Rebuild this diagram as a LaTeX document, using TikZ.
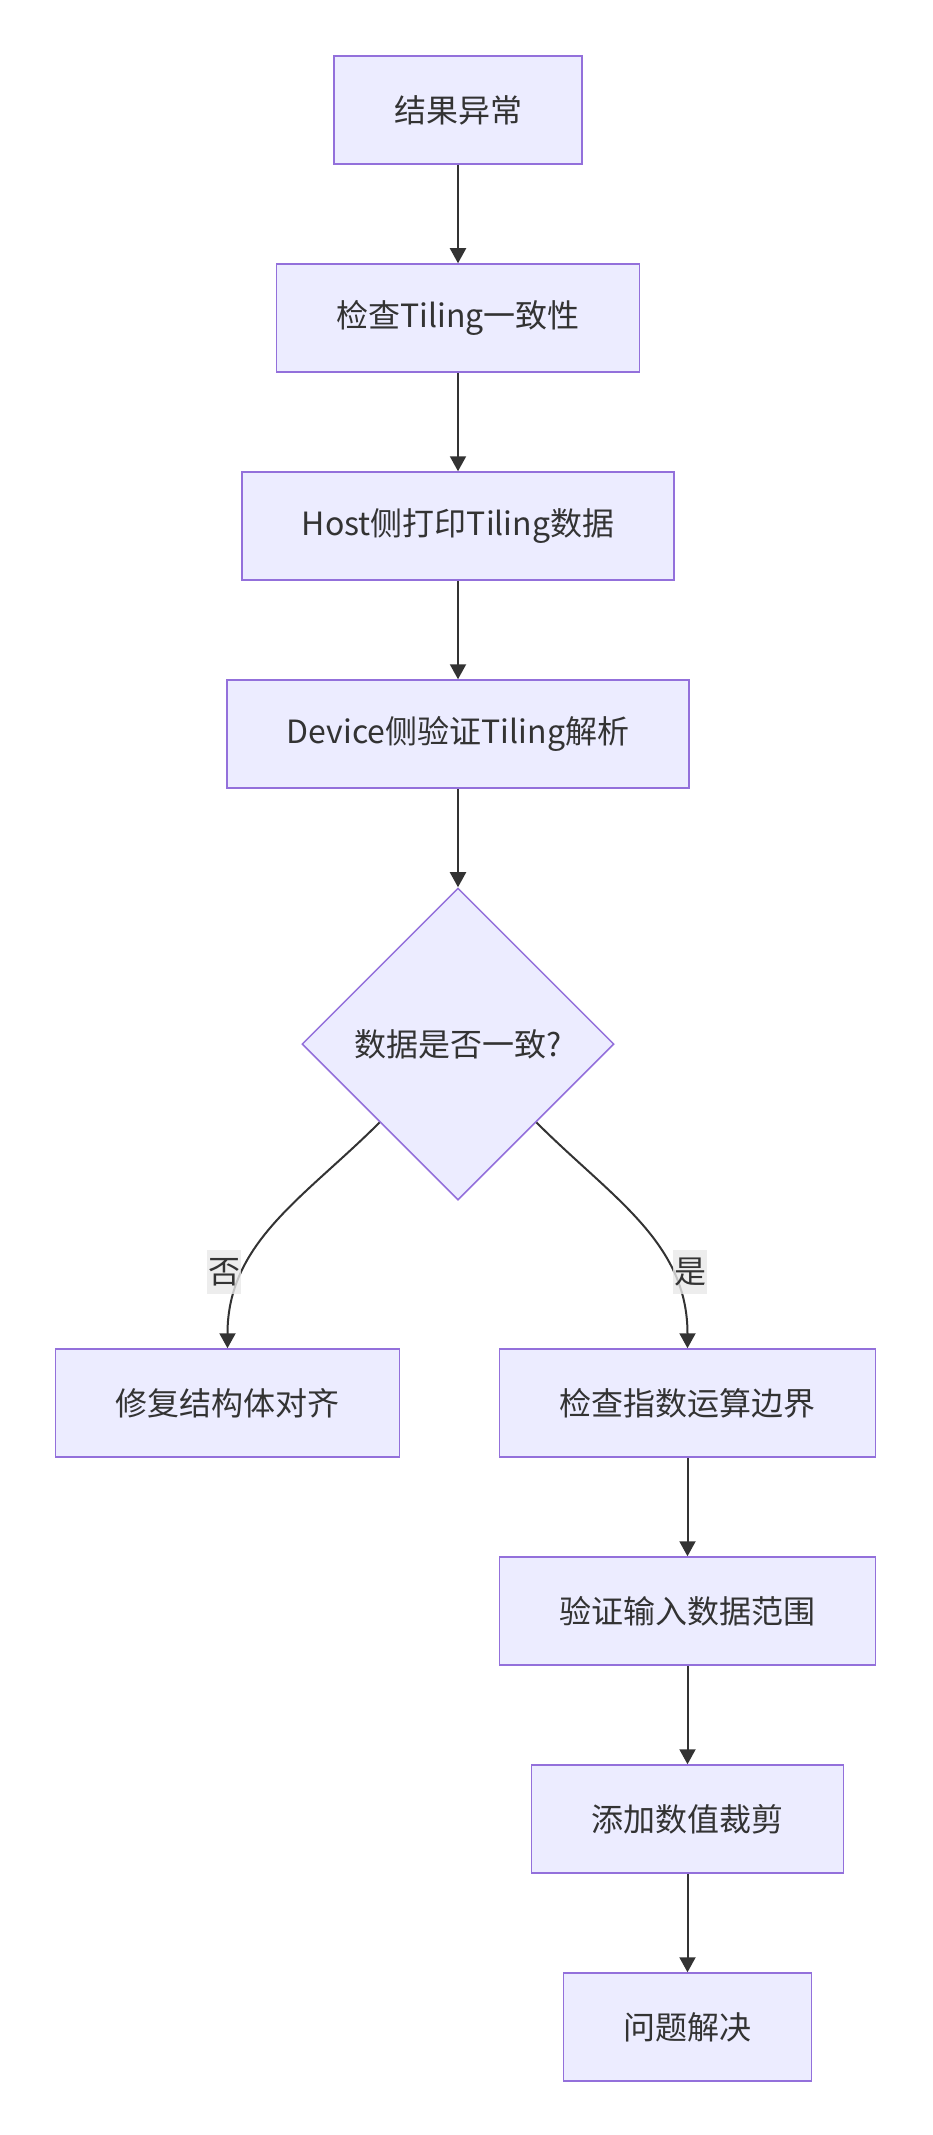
\documentclass[tikz,border=0pt]{standalone}
\usepackage{fontspec}
\setmainfont{Noto Sans CJK SC}
\usepackage{xcolor}
\usepackage{tikz}
\usetikzlibrary{shapes.geometric, arrows.meta}

\definecolor{boxfill}{HTML}{ECECFF}
\definecolor{boxline}{HTML}{9370DB}
\definecolor{edgeline}{HTML}{333333}
\definecolor{lblfill}{HTML}{E8E8E8}

\begin{document}
\begin{tikzpicture}[x=1pt,y=1pt,->,>={Triangle[length=15pt,width=16pt]},node distance=208pt,
    font=\fontsize{32pt}{38pt}\selectfont,text=edgeline,
    every edge/.append style={draw=edgeline,line width=2pt},
    proc/.style={rectangle,draw=boxline,fill=boxfill,line width=1.5pt,minimum height=108pt,inner xsep=60pt},
    decision/.style={diamond,aspect=1,draw=boxline,fill=boxfill,line width=1.5pt,minimum width=312pt,minimum height=312pt,inner sep=0pt},
    lbl/.style={fill=lblfill,fill opacity=0.8,text opacity=1,inner xsep=1pt,inner ysep=8pt}]
    \useasboundingbox (0,0) rectangle (932,-2135);

    \node[proc] (b1) at (458,-110) {结果异常};
    \node[proc] (b2) [below of=b1] {检查Tiling一致性};
    \node[proc] (b3) [below of=b2] {Host侧打印Tiling数据};
    \node[proc] (b4) [below of=b3] {Device侧验证Tiling解析};
    \node[decision] (d) [below of=b4,node distance=310pt] {数据是否一致?};
    \node[proc] (no) at (227.5,-1403) {修复结构体对齐};
    \node[proc] (yes) at (687.5,-1403) {检查指数运算边界};
    \node[proc] (b7) [below of=yes] {验证输入数据范围};
    \node[proc] (b8) [below of=b7] {添加数值裁剪};
    \node[proc] (b9) [below of=b8] {问题解决};

    \path (b1) edge (b2)
          (b2) edge (b3)
          (b3) edge (b4)
          (b4) edge (d)
          (d.south west) edge[out=-135,in=90] node[lbl,pos=0.7,xshift=-22pt,yshift=-5pt] {否} (no)
          (d.south east) edge[out=-45,in=90] node[lbl,pos=0.7,xshift=21pt,yshift=-5pt] {是} (yes)
          (yes) edge (b7)
          (b7) edge (b8)
          (b8) edge (b9);
\end{tikzpicture}
\end{document}
